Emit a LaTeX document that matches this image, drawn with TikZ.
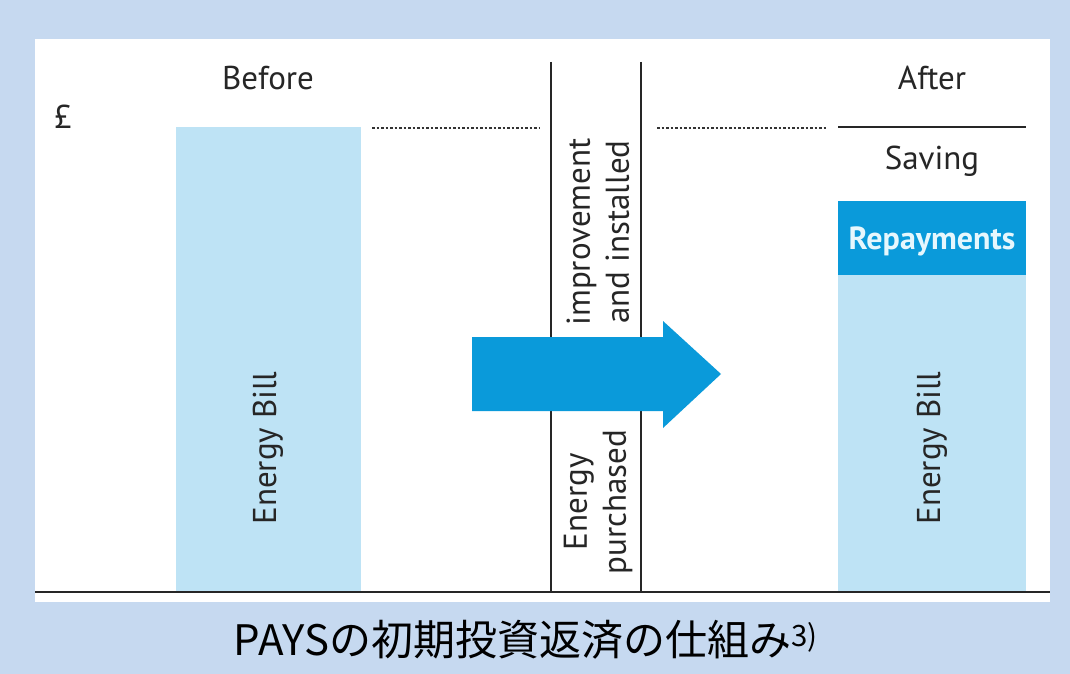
\documentclass[tikz,border=0pt]{standalone}
\usepackage{fontspec}
\setmainfont{PT Sans}
\newfontfamily\cjk{Noto Sans CJK JP}
\usepackage{xcolor}
\usepackage{tikz}
\usetikzlibrary{positioning}

\definecolor{frameblue}{HTML}{C6D9F0}
\definecolor{billblue}{HTML}{BEE3F5}
\definecolor{deepblue}{HTML}{0A9ADA}

\begin{document}
\begin{tikzpicture}[
  x=1pt, y=-1pt,
  lbl/.style={inner sep=0pt, font=\fontsize{33}{36}\selectfont, text=black!85},
  vlbl/.style={lbl, rotate=90, align=center, font=\fontsize{33}{39}\selectfont},
  bar/.style={fill=billblue, draw=none},
  rule/.style={line width=1.6pt, black!85},
  dots/.style={line width=1.5pt, black!80, dash pattern=on 2.5pt off 2pt}
]
  % frame and panel
  \fill[frameblue] (0,0) rectangle (1070,674);
  \fill[white] (35,39) rectangle (1050,602);

  % bars
  \fill[bar] (176,127) rectangle (361,592);
  \fill[bar] (838,275) rectangle (1026,592);
  \fill[deepblue] (838,201) rectangle (1026,275);

  % labels
  \node[lbl] (pound) at (63,117) {£};
  \node[lbl] (before) at (268,78) {Before};
  \node[lbl] (after) at (932,78) {After};
  \node[lbl] (saving) at (932,161) {Saving};
  \node[lbl, text=white!90!cyan, font=\fontsize{32}{36}\selectfont\bfseries] (repay) at (932,241) {Repayments};
  \node[vlbl] (billA) at (268,448) {Energy Bill};
  \node[vlbl] (billB) at (932,448) {Energy Bill};

  % middle column
  \draw[rule] (551,62) -- (551,592);
  \draw[rule] (641,62) -- (641,592);
  \node[vlbl] (upper) at (598,232) {improvement\\and installed};
  \node[vlbl] (lower) at (598,502) {Energy\\purchased};

  % guide lines
  \coordinate (dl1) at (372,128);
  \coordinate (dl2) at (540,128);
  \coordinate (dr1) at (657,128);
  \coordinate (dr2) at (826,128);
  \draw[dots] (dl1) -- (dl2);
  \draw[dots] (dr1) -- (dr2);
  \draw[rule] (838,127) -- (1026,127);

  % arrow
  \fill[deepblue] (472,337) -- (663,337) -- (663,321) -- (721,374)
    -- (663,428) -- (663,411) -- (472,411) -- cycle;

  % baseline
  \draw[line width=2.4pt, black!85] (35,592) -- (1050,592);

  % caption
  \node[inner sep=0pt, font=\cjk\fontsize{42}{46}\selectfont] (cap) at (526,640)
    {PAYSの初期投資返済の仕組み\textsuperscript{3)}};
\end{tikzpicture}
\end{document}
